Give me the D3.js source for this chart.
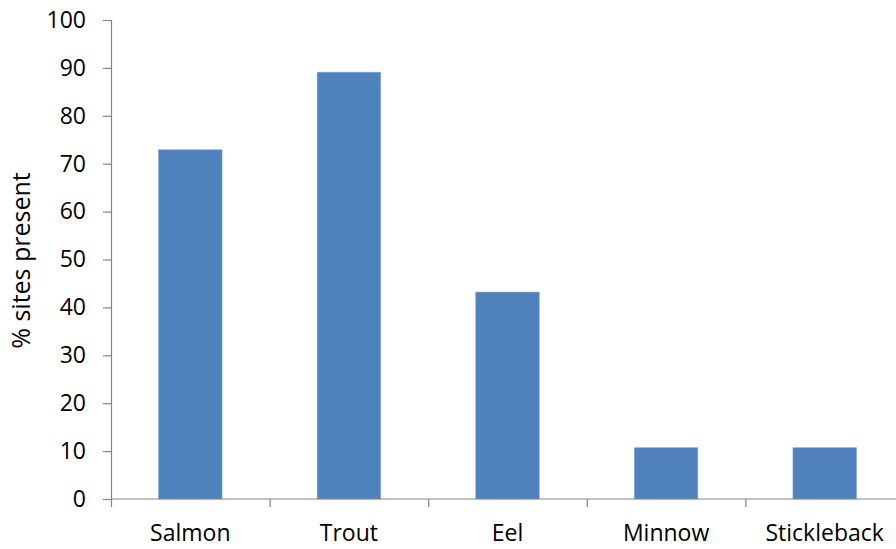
<!DOCTYPE html>
<html>
<head>
<meta charset="utf-8">
<script src="https://cdn.jsdelivr.net/npm/d3@7"></script>
<style>
  body { margin: 0; background: #fff; }
  svg text { font-family: "Open Sans", sans-serif; fill: #000; }
</style>
</head>
<body>
<svg id="chart"></svg>
<script>
// data
const species = ["Salmon", "Trout", "Eel", "Minnow", "Stickleback"];
const pctPresent = [72.9, 89.1, 43.2, 10.7, 10.7];
const yTicks = [0, 10, 20, 30, 40, 50, 60, 70, 80, 90, 100];

const width = 896, height = 549;
const margin = {top: 20, right: -8, bottom: 50, left: 111};
const innerW = width - margin.left - margin.right;
const innerH = height - margin.top - margin.bottom;

const svg = d3.select("#chart")
    .attr("width", width)
    .attr("height", height);

const chart = svg.append("g")
    .attr("transform", `translate(${margin.left},${margin.top})`);

const x = d3.scaleBand()
    .domain(species)
    .range([0, innerW])
    .paddingInner(0.6)
    .paddingOuter(0.3);

const y = d3.scaleLinear()
    .domain([0, 100])
    .range([innerH, 0]);

// bars
chart.selectAll(".bar")
    .data(species.map((s, i) => ({name: s, value: pctPresent[i]})))
    .join("rect")
    .attr("class", "bar")
    .attr("x", d => x(d.name))
    .attr("y", d => y(d.value))
    .attr("width", x.bandwidth())
    .attr("height", d => y(0) - y(d.value))
    .attr("fill", "#4f81bd")
    .attr("stroke", "#7aa0d0")
    .attr("stroke-width", 0.6);

// y axis
const yAxisG = chart.append("g")
    .call(d3.axisLeft(y).tickValues(yTicks).tickSize(8).tickPadding(17));
yAxisG.select(".domain").attr("stroke", "#868686").attr("stroke-width", 1.2)
    .attr("d", `M0.5,${y(100)}V${y(0)}`);
yAxisG.selectAll(".tick line").attr("stroke", "#868686").attr("stroke-width", 1.2);
yAxisG.selectAll(".tick text").style("font-size", "23px");

// x axis: ticks sit on category boundaries like excel
const xAxisG = chart.append("g")
    .attr("transform", `translate(0,${innerH})`);
xAxisG.append("line")
    .attr("x1", 0).attr("x2", innerW)
    .attr("stroke", "#868686").attr("stroke-width", 1.2);
xAxisG.selectAll(".bound")
    .data(d3.range(species.length + 1))
    .join("line")
    .attr("class", "bound")
    .attr("x1", i => i * x.step() + 0.5)
    .attr("x2", i => i * x.step() + 0.5)
    .attr("y1", 0).attr("y2", 8)
    .attr("stroke", "#868686").attr("stroke-width", 1.2);
xAxisG.selectAll(".cat")
    .data(species)
    .join("text")
    .attr("class", "cat")
    .attr("x", d => x(d) + x.bandwidth() / 2)
    .attr("y", 42)
    .attr("text-anchor", "middle")
    .style("font-size", "23px")
    .text(d => d);

// y label
svg.append("text")
    .attr("transform", `translate(30,${margin.top + innerH / 2 + 1}) rotate(-90)`)
    .attr("text-anchor", "middle")
    .style("font-size", "25px")
    .text("% sites present");
</script>
</body>
</html>
